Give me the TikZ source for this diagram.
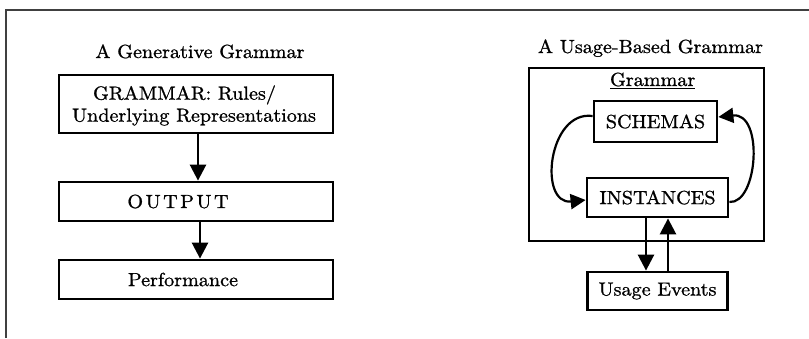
\documentclass[tikz,border=0pt]{standalone}
\usepackage{fontspec}
\setmainfont{lmroman10-regular}[Extension=.otf, FakeStretch=1.06, FakeBold=1]
\usetikzlibrary{arrows.meta}
\begin{document}
\begin{tikzpicture}[x=1pt,y=-1pt,
  every node/.style={font=\fontsize{19}{22}\selectfont, inner sep=0pt},
  box/.style={draw, line width=2.8pt, inner sep=0pt},
  arr/.style={line width=2.6pt, -{Triangle[width=16pt,length=16pt]}},
  curv/.style={line width=2.2pt, -{Triangle[width=15pt,length=15pt]}},
  frame/.style={line width=1.5pt, draw=black!75}]
\useasboundingbox (0,0) rectangle (809,338);
% partial frame
\coordinate (fbl) at (6,338);
\coordinate (ftl) at (6,10);
\coordinate (ftr) at (809,10);
\draw[frame] (fbl) -- (ftl) -- (ftr);
% left: generative grammar
\node[anchor=base] (t1) at (200,58) {A Generative Grammar};
\node[box, minimum width=274pt, minimum height=58pt,
  label={[align=center, xshift=-2pt, yshift=-1.5pt]center:{GRAMMAR: Rules/\kern19pt\\Underlying Representations}}] (g) at (196,104) {};
\node[box, minimum width=274pt, minimum height=39pt,
  label={[xshift=-18pt]center:{O\kern2.5pt U\kern2.5pt T\kern2.5pt P\kern2.5pt U\kern2.5pt T}}] (out) at (196,201.5) {};
\node[box, minimum width=274pt, minimum height=39pt,
  label={[xshift=-13pt]center:{Performance}}] (perf) at (196,279.5) {};
\draw[arr] ([xshift=2pt]g.south) -- ([xshift=2pt]out.north);
\draw[arr] ([xshift=4pt]out.south) -- ([xshift=4pt]perf.north);
% right: usage-based grammar
\node[anchor=base] (t2) at (650.5,53) {A Usage-Based Grammar};
\node[box, minimum width=235pt, minimum height=173pt] (outer) at (646.5,154.5) {};
\node[anchor=base] (gl) at (652.7,86) {\underline{Grammar}};
\node[box, minimum width=123pt, minimum height=41pt] (sch) at (655.5,121.5) {SCHEMAS};
\node[box, minimum width=141pt, minimum height=39pt] (inst) at (657.5,197.5) {INSTANCES};
\node[box, minimum width=140pt, minimum height=38pt] (ue) at (657.5,291) {Usage Events};
\draw[arr] ([xshift=-11.5pt]inst.south) -- ([xshift=-11.5pt]ue.north);
\draw[arr] ([xshift=10.5pt]ue.north) -- ([xshift=10.5pt]inst.south);
\draw[curv] ([yshift=5.5pt]sch.west) .. controls (548,110) and (538,205) .. ([yshift=-2.5pt]inst.west);
\draw[curv] ([yshift=-4.5pt]inst.east) .. controls (758,204) and (764,112) .. ([yshift=4.5pt]sch.east);
\end{tikzpicture}
\end{document}
